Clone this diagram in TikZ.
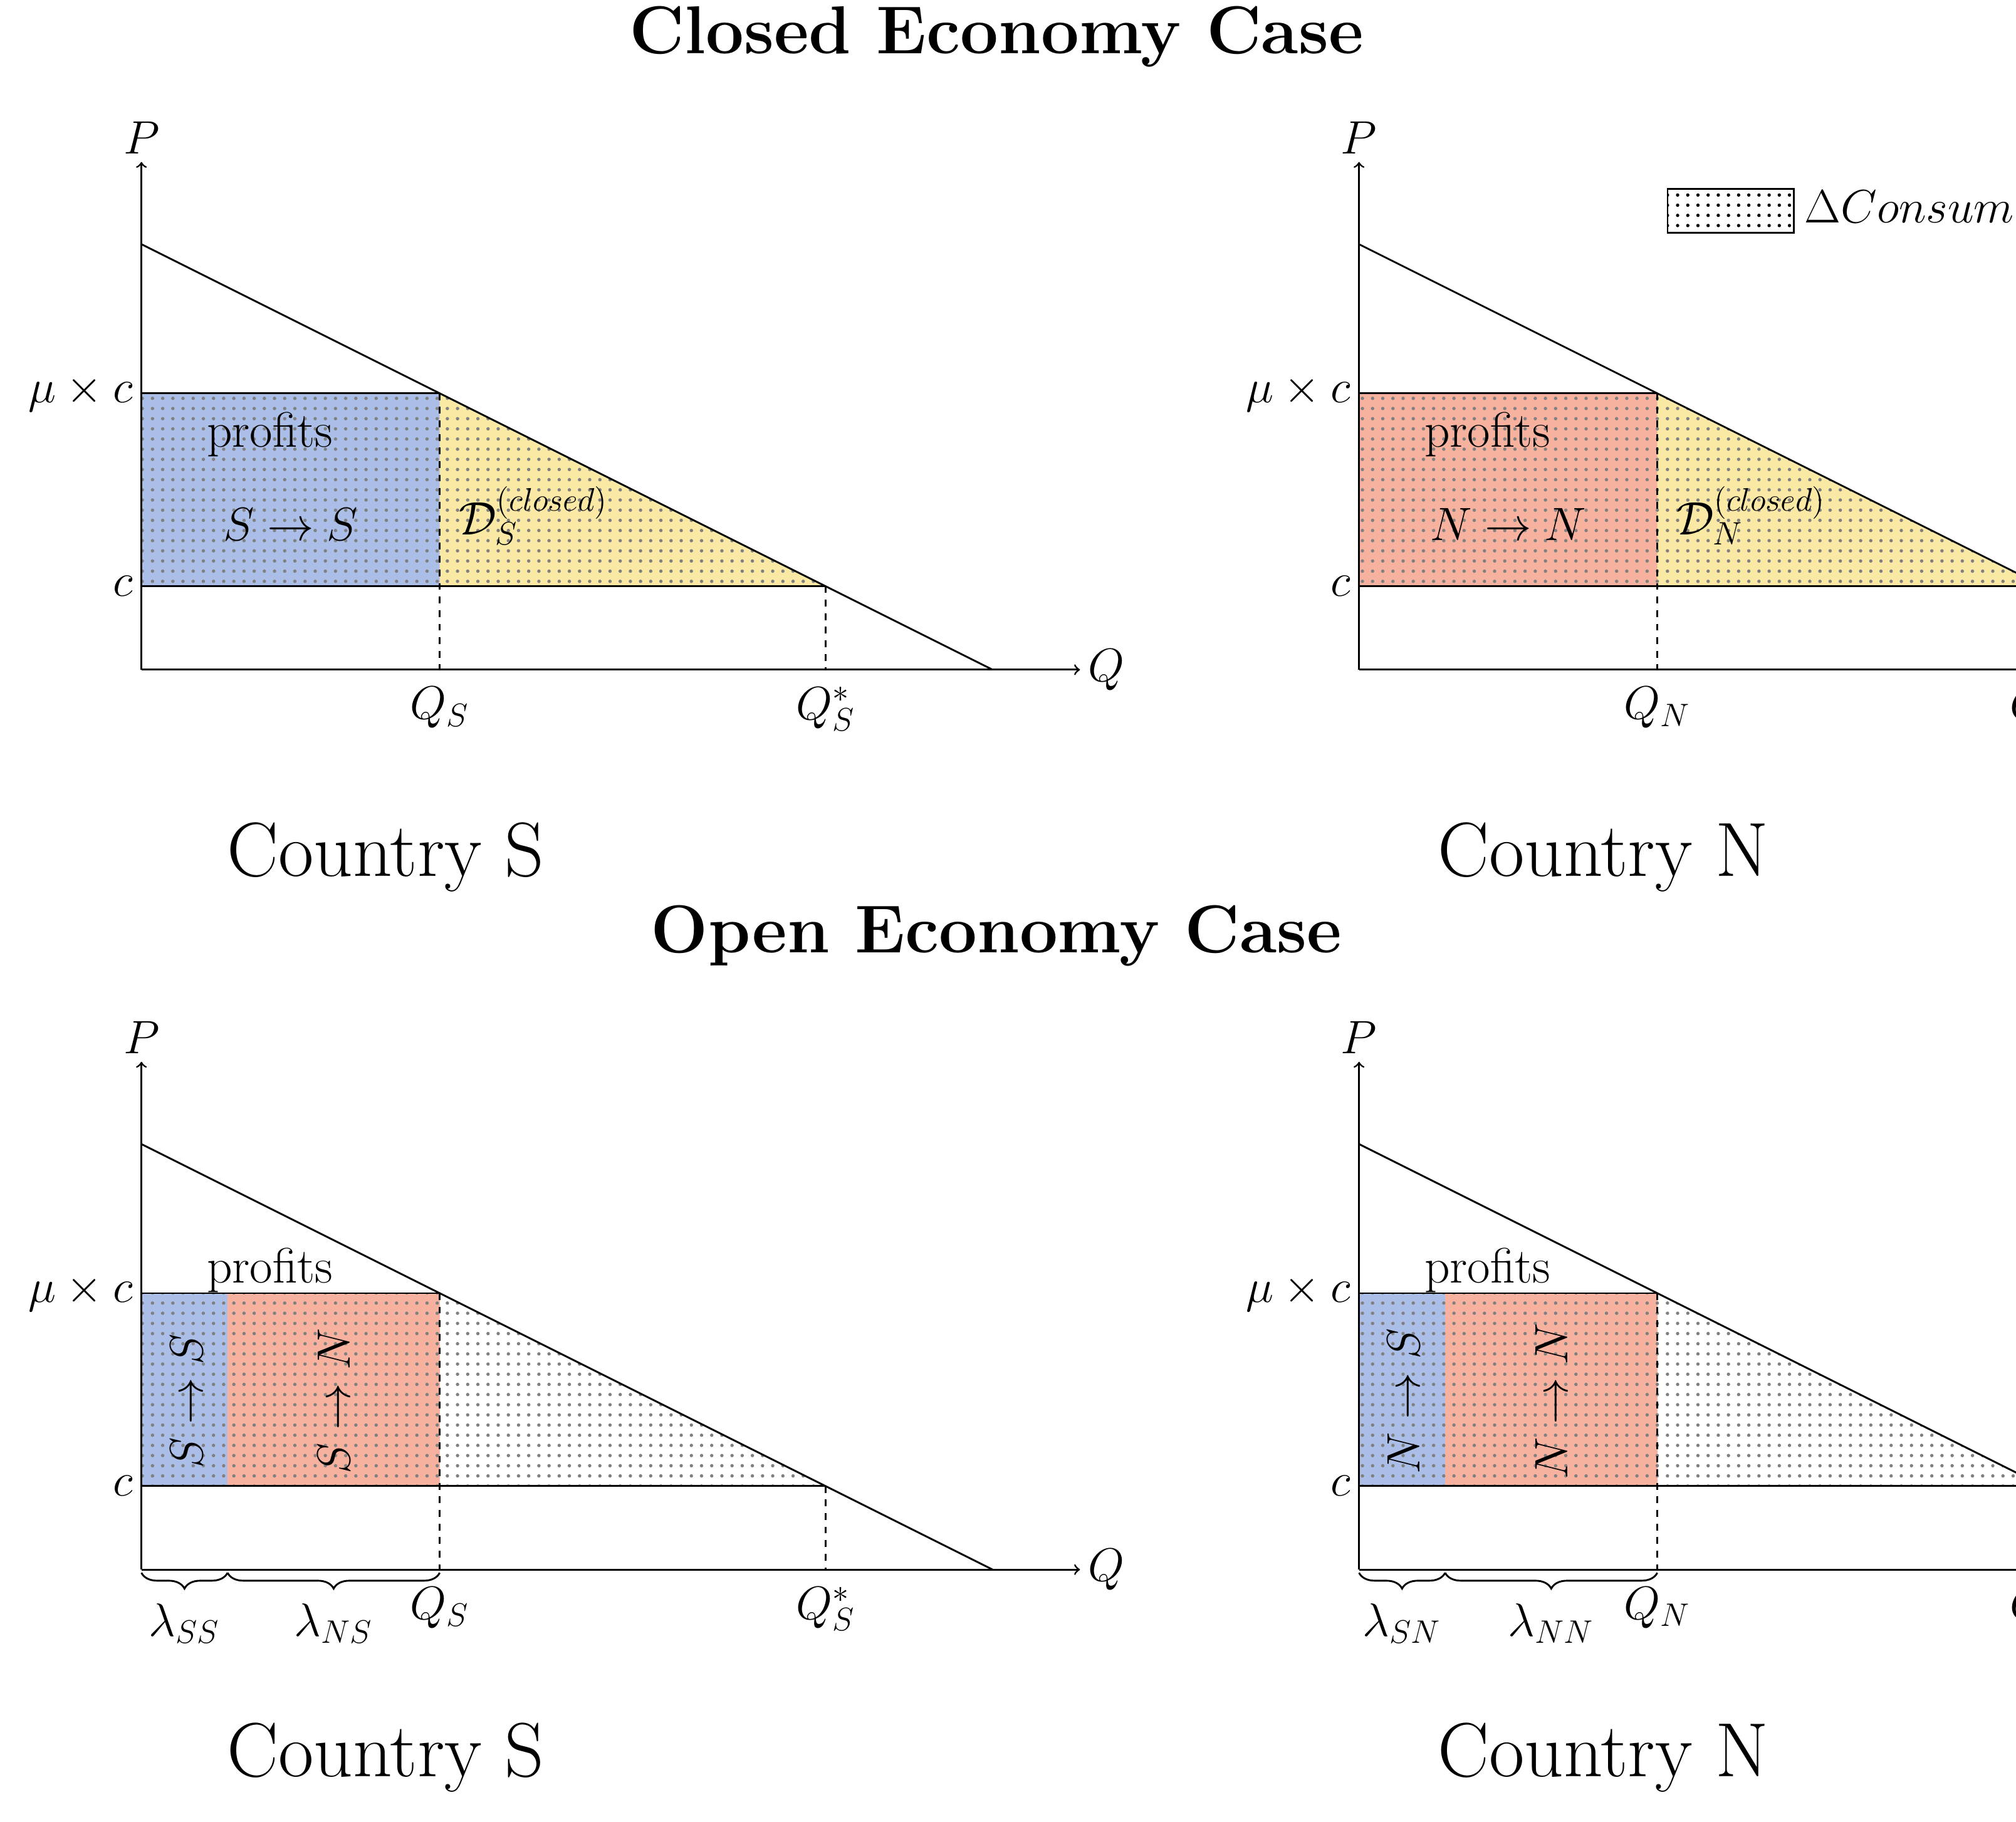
\documentclass[tikz,border=0pt]{standalone}
\usetikzlibrary{patterns.meta,decorations.pathreplacing}
\definecolor{sblue}{RGB}{170,190,232}
\definecolor{nred}{RGB}{246,178,158}
\definecolor{dyellow}{RGB}{250,232,165}
\tikzset{
  lbl/.style={font=\fontsize{22}{26}\selectfont},
  big/.style={font=\fontsize{34}{40}\selectfont},
  ttl/.style={font=\fontsize{30}{36}\selectfont\bfseries},
  dotfill/.style={pattern={Dots[distance=4.5pt,radius=0.75pt]}, pattern color=gray},
  brc/.style={decorate, decoration={brace, mirror, amplitude=7pt}}
}
% axes, demand line and price levels of one country
\newcommand{\market}[2]{%
\draw[->] (0,0) -- (14.6,0) node[lbl, anchor=west]{$Q$};
\draw[->] (0,0) -- (0,7.9) node[lbl, anchor=south]{$P$};
\draw (0,6.62) -- (13.24,0);
\draw (0,4.3) node[lbl, anchor=east]{$\mu\times c$} -- (4.64,4.3);
\draw (0,1.3) node[lbl, anchor=east]{$c$} -- (10.64,1.3);
\draw[dashed] (4.64,4.3) -- (4.64,0) node[lbl, anchor=north, yshift=-4pt]{$Q_{#1}$};
\draw[dashed] (10.64,1.3) -- (10.64,0) node[lbl, anchor=north, yshift=-4pt]{$Q^*_{#1}$};
\node[big] at (3.8,-2.92) {Country #2};
}
\begin{document}
\begin{tikzpicture}[line width=0.8pt]
\useasboundingbox (-2.2,-17.92) rectangle (29.16,10.42);

\node[ttl] at (13.3,9.85) {Closed Economy Case};
\node[ttl] at (13.3,-4.14) {Open Economy Case};

% closed, country S
\begin{scope}
\fill[sblue] (0,1.3) rectangle (4.64,4.3);
\fill[dyellow] (4.64,1.3) -- (4.64,4.3) -- (10.64,1.3) -- cycle;
\fill[dotfill] (0,1.3) -- (0,4.3) -- (4.64,4.3) -- (10.64,1.3) -- cycle;
\market{S}{S}
\node[lbl] at (2,3.66) {profits};
\node[lbl] at (2.32,2.26) {$S\rightarrow S$};
\node[lbl] at (6.1,2.4) {$\mathcal{D}_S^{(closed)}$};
\end{scope}

% closed, country N
\begin{scope}[xshift=18.94cm]
\fill[nred] (0,1.3) rectangle (4.64,4.3);
\fill[dyellow] (4.64,1.3) -- (4.64,4.3) -- (10.64,1.3) -- cycle;
\fill[dotfill] (0,1.3) -- (0,4.3) -- (4.64,4.3) -- (10.64,1.3) -- cycle;
\market{N}{N}
\node[lbl] at (2,3.66) {profits};
\node[lbl] at (2.32,2.26) {$N\rightarrow N$};
\node[lbl] at (6.1,2.4) {$\mathcal{D}_N^{(closed)}$};
\draw[pattern={Dots[distance=4.5pt,radius=0.75pt]}] (4.8,7.48) rectangle (6.76,6.8);
\node[lbl, anchor=west] at (6.8,7.14) {$\Delta Consumer\ Surplus$};
\end{scope}

% open, country S
\begin{scope}[yshift=-14cm]
\fill[sblue] (0,1.3) rectangle (1.34,4.3);
\fill[nred] (1.34,1.3) rectangle (4.64,4.3);
\fill[dotfill] (0,1.3) -- (0,4.3) -- (4.64,4.3) -- (10.64,1.3) -- cycle;
\market{S}{S}
\node[lbl] at (2,4.66) {profits};
\node[lbl, rotate=90] at (0.7,2.62) {$S\rightarrow S$};
\node[lbl, rotate=90] at (3,2.62) {$S\rightarrow N$};
\draw[brc] (0,-0.05) -- (1.34,-0.05) node[lbl, midway, below=10pt]{$\lambda_{SS}$};
\draw[brc] (1.34,-0.05) -- (4.64,-0.05) node[lbl, midway, below=10pt]{$\lambda_{NS}$};
\end{scope}

% open, country N
\begin{scope}[xshift=18.94cm, yshift=-14cm]
\fill[sblue] (0,1.3) rectangle (1.34,4.3);
\fill[nred] (1.34,1.3) rectangle (4.64,4.3);
\fill[dotfill] (0,1.3) -- (0,4.3) -- (4.64,4.3) -- (10.64,1.3) -- cycle;
\market{N}{N}
\node[lbl] at (2,4.66) {profits};
\node[lbl, rotate=90] at (0.7,2.62) {$N\rightarrow S$};
\node[lbl, rotate=90] at (3,2.62) {$N\rightarrow N$};
\draw[brc] (0,-0.05) -- (1.34,-0.05) node[lbl, midway, below=10pt]{$\lambda_{SN}$};
\draw[brc] (1.34,-0.05) -- (4.64,-0.05) node[lbl, midway, below=10pt]{$\lambda_{NN}$};
\end{scope}
\end{tikzpicture}
\end{document}
